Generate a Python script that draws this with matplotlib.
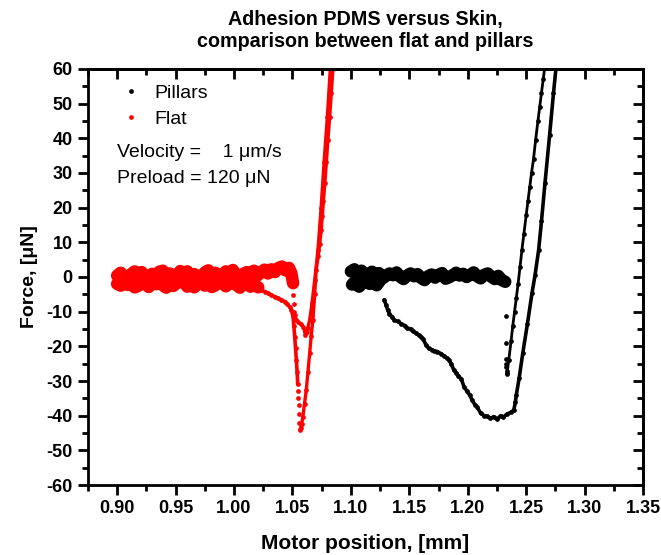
import matplotlib
matplotlib.use("Agg")
import matplotlib.pyplot as plt
from matplotlib.lines import Line2D
from matplotlib.ticker import MultipleLocator

plt.rcParams["font.family"] = ["Liberation Sans", "DejaVu Sans"]

# ---- Flat (red) ----
# approach: noisy baseline, then contact and loading line
flat_app_x = [0.900, 0.903, 0.906, 0.909, 0.912, 0.915, 0.918, 0.921, 0.924, 0.927,
              0.930, 0.933, 0.936, 0.939, 0.942, 0.945, 0.948, 0.951, 0.954, 0.957,
              0.960, 0.963, 0.966, 0.969, 0.972, 0.975, 0.978, 0.981, 0.984, 0.987,
              0.990, 0.993, 0.996, 0.999, 1.002, 1.005, 1.008, 1.011, 1.014, 1.017,
              1.020, 1.023, 1.026, 1.029, 1.032, 1.035, 1.038, 1.041, 1.044, 1.047,
              1.0490, 1.0505]
flat_app_y = [0.4, 1.2, 0.2, -0.4, 0.8, 1.6, 0.6, 1.4, 0.0, -0.6,
              0.9, 0.3, 1.5, 1.8, 0.4, 1.0, -0.3, 0.6, 1.7, 1.1,
              1.6, 0.2, 0.8, -0.5, 0.1, 1.3, 1.9, 0.7, 1.2, -0.2,
              0.5, 1.6, 1.0, 2.0, 0.3, -0.4, 0.9, 1.4, 0.6, 1.8,
              0.4, 1.3, 2.1, 1.0, 2.2, 1.4, 2.6, 3.0, 1.9, 2.6,
              1.1, -1.8]
flat_jump_x = [1.0508, 1.0512, 1.0516]
flat_jump_y = [-5.2, -7.8, -10.0]
flat_load_x = [1.0520, 1.0533, 1.0548, 1.0570, 1.0590, 1.0603, 1.0610, 1.0620, 1.0630,
               1.0647, 1.0667, 1.0690, 1.0718, 1.0745, 1.0770, 1.0798, 1.0825]
flat_load_y = [-11.0, -12.3, -12.9, -13.6, -14.3, -15.5, -16.7, -16.0, -14.8,
               -12.4, -7.6, -0.9, 7.8, 20.0, 33.0, 46.0, 60.8]
# retract: unloading line down to the adhesion minimum, then back to baseline
flat_unl_x = [1.0848, 1.0832, 1.0818, 1.0803, 1.0790, 1.0777, 1.0765, 1.0755, 1.0746,
              1.0733, 1.0720, 1.0703, 1.0690, 1.0675, 1.0660, 1.0647, 1.0632, 1.0618,
              1.0603, 1.0589, 1.0578, 1.0570, 1.0563]
flat_unl_y = [60.8, 53.0, 46.0, 39.5, 33.0, 27.0, 22.0, 17.5, 13.5,
              9.5, 6.0, 2.0, -5.0, -12.4, -17.0, -22.0, -27.5, -32.6,
              -36.5, -40.3, -42.5, -43.5, -44.0]
flat_snap_x = [1.0558, 1.0555, 1.0552, 1.0550, 1.0548]
flat_snap_y = [-42.0, -39.5, -37.0, -35.0, -33.0]
flat_tail_x = [1.0545, 1.0540, 1.0533, 1.0526, 1.0519, 1.0512, 1.0505, 1.0490, 1.0476,
               1.0455, 1.0434, 1.0405, 1.0377, 1.0350, 1.0320, 1.0290, 1.0263, 1.0235,
               1.0207]
flat_tail_y = [-31.0, -27.5, -24.0, -20.5, -17.2, -14.2, -11.4, -9.5, -8.6,
               -7.8, -7.1, -6.6, -6.2, -5.7, -5.2, -4.7, -4.2, -3.8,
               -3.3]
flat_ret_x = [1.0207, 1.017, 1.014, 1.011, 1.008, 1.005, 1.002, 0.999, 0.996, 0.993,
              0.990, 0.987, 0.984, 0.981, 0.978, 0.975, 0.972, 0.969, 0.966, 0.963,
              0.960, 0.957, 0.954, 0.951, 0.948, 0.945, 0.942, 0.939, 0.936, 0.933,
              0.930, 0.927, 0.924, 0.921, 0.918, 0.915, 0.912, 0.909, 0.906, 0.903,
              0.900]
flat_ret_y = [-3.0, -2.2, -2.8, -1.4, -2.0, -3.1, -2.3, -1.2, -1.9, -2.7,
              -1.6, -1.0, -2.4, -2.9, -1.7, -2.5, -1.2, -1.9, -3.0, -2.2,
              -2.8, -1.5, -1.0, -1.8, -2.6, -1.9, -3.1, -2.4, -1.3, -2.1,
              -1.5, -2.9, -2.0, -1.1, -2.6, -3.0, -1.7, -2.3, -1.4, -2.5,
              -2.0]

# ---- Pillars (black) ----
pil_app_x = [1.100, 1.103, 1.106, 1.109, 1.112, 1.115, 1.118, 1.121, 1.124, 1.127,
             1.130, 1.133, 1.136, 1.139, 1.142, 1.145, 1.148, 1.151, 1.154, 1.157,
             1.160, 1.163, 1.166, 1.169, 1.172, 1.175, 1.178, 1.181, 1.184, 1.187,
             1.190, 1.193, 1.196, 1.199, 1.202, 1.205, 1.208, 1.211, 1.214, 1.217,
             1.220, 1.223, 1.226, 1.229, 1.232]
pil_app_y = [1.6, 2.2, 0.9, 1.8, 0.0, 0.8, 1.5, 0.4, 1.1, -0.4,
             0.3, 1.0, 0.5, 1.3, 0.1, -0.6, 0.4, 1.0, 0.2, 0.8,
             -0.3, -0.9, 0.2, 0.7, -0.2, 0.6, 1.1, -0.5, -0.1, 0.5,
             1.2, 0.4, 0.9, 0.0, 0.6, 1.3, 0.2, -0.4, 0.6, 1.0,
             0.1, -0.6, 0.3, -0.9, -1.4]
pil_start_x = [1.101, 1.104, 1.107, 1.110, 1.113, 1.116, 1.119, 1.122, 1.125]
pil_start_y = [-2.2, -1.2, -2.8, -1.6, -0.8, -2.0, -1.4, -2.4, -1.0]
pil_snap_x = [1.2325, 1.2325, 1.2325, 1.2328, 1.2330, 1.2332, 1.2334]
pil_snap_y = [-11.4, -19.0, -23.6, -25.0, -26.0, -27.0, -28.0]
pil_load_x = [1.2336, 1.2350, 1.2370, 1.2385, 1.2400, 1.2415, 1.2430, 1.2447, 1.2463,
              1.2480, 1.2500, 1.2515, 1.2530, 1.2545, 1.2562, 1.2580, 1.2600, 1.2615,
              1.2630, 1.2645, 1.2660]
pil_load_y = [-27.8, -24.0, -18.5, -14.0, -10.0, -6.0, -2.0, 3.0, 7.8,
              12.5, 18.0, 22.0, 26.0, 30.0, 34.0, 39.5, 45.0, 49.0,
              53.0, 57.0, 60.8]
pil_ret_x = [1.2756, 1.2733, 1.2700, 1.2660, 1.2630, 1.2606, 1.2575, 1.2549, 1.2510,
             1.2470, 1.2440, 1.2415, 1.2407, 1.2393, 1.2370, 1.2336, 1.2300, 1.2280,
             1.2250, 1.2220, 1.2194, 1.2165, 1.2140, 1.2110, 1.2080, 1.2060, 1.2037,
             1.2015, 1.1990, 1.1967, 1.1945, 1.1920, 1.1900, 1.1880, 1.1860, 1.1840,
             1.1825, 1.1800, 1.1774, 1.1740, 1.1710, 1.1690, 1.1664, 1.1640, 1.1620,
             1.1600, 1.1580, 1.1560, 1.1530, 1.1510, 1.1484, 1.1460, 1.1430, 1.1400,
             1.1370, 1.1350, 1.1330, 1.1314, 1.1300, 1.1285]
pil_ret_y = [60.8, 53.0, 41.0, 27.0, 16.0, 7.8, 0.5, -4.7, -13.5,
             -22.0, -29.0, -34.0, -36.0, -38.4, -39.0, -39.5, -40.5, -40.0,
             -41.0, -40.3, -40.8, -40.2, -40.0, -39.3, -37.5, -36.8, -35.5,
             -34.0, -32.8, -31.6, -29.5, -28.5, -27.6, -26.8, -25.2, -24.0,
             -23.5, -22.8, -22.2, -21.5, -21.3, -21.0, -20.6, -19.5, -18.0,
             -17.2, -16.8, -16.2, -15.6, -15.0, -14.8, -14.0, -13.5, -12.8,
             -12.4, -11.5, -10.6, -9.5, -8.0, -6.6]

RED = "#ff0000"
BLACK = "#000000"

fig = plt.figure(figsize=(6.61, 5.55), dpi=100)
ax = fig.add_axes([0.133, 0.126, 0.840, 0.750])


def trace(x, y, c, lw=2.6, ms=3.4):
    ax.plot(x, y, "-", color=c, lw=lw, solid_capstyle="round", solid_joinstyle="round")
    if ms:
        ax.plot(x, y, "o", color=c, ms=ms, mec="none")


def dots(x, y, c, ms=3.4):
    ax.plot(x, y, "o", color=c, ms=ms, mec="none", ls="none")


# noisy baselines: the dots overlap into a fat band, drawn as thick strokes
trace(flat_app_x, flat_app_y, RED, lw=9, ms=0)
trace(flat_ret_x, flat_ret_y, RED, lw=9, ms=0)
trace(flat_tail_x, flat_tail_y, RED, lw=2.6)
dots(flat_jump_x, flat_jump_y, RED)
trace(flat_load_x, flat_load_y, RED, lw=2.4)
trace(flat_unl_x, flat_unl_y, RED, lw=2.4)
dots(flat_snap_x, flat_snap_y, RED)

trace(pil_app_x, pil_app_y, BLACK, lw=9, ms=0)
trace(pil_start_x, pil_start_y, BLACK, lw=9, ms=0)
dots(pil_snap_x, pil_snap_y, BLACK)
trace(pil_load_x, pil_load_y, BLACK, lw=2.0)
trace(pil_ret_x, pil_ret_y, BLACK, lw=2.6)

ax.set_xlim(0.875, 1.35)
ax.set_ylim(-60, 60)
ax.xaxis.set_major_locator(MultipleLocator(0.05))
ax.xaxis.set_minor_locator(MultipleLocator(0.025))
ax.yaxis.set_major_locator(MultipleLocator(10))
ax.yaxis.set_minor_locator(MultipleLocator(5))
ax.xaxis.set_major_formatter(plt.FuncFormatter(lambda v, p: f"{v:.2f}"))
ax.yaxis.set_major_formatter(plt.FuncFormatter(lambda v, p: f"{v:.0f}"))
ax.tick_params(which="major", direction="out", length=7, width=2, labelsize=13, pad=4)
ax.tick_params(which="minor", direction="out", length=4, width=2)
for lab in ax.get_xticklabels() + ax.get_yticklabels():
    lab.set_fontweight("bold")
for s in ax.spines.values():
    s.set_linewidth(2)

top = ax.secondary_xaxis("top")
top.xaxis.set_major_locator(MultipleLocator(0.05))
top.xaxis.set_minor_locator(MultipleLocator(0.025))
top.tick_params(which="major", direction="in", length=7, width=2, labeltop=False)
top.tick_params(which="minor", direction="in", length=4, width=2)
top.spines["top"].set_linewidth(2)
right = ax.secondary_yaxis("right")
right.yaxis.set_major_locator(MultipleLocator(10))
right.yaxis.set_minor_locator(MultipleLocator(5))
right.tick_params(which="major", direction="in", length=7, width=2, labelright=False)
right.tick_params(which="minor", direction="in", length=4, width=2)
right.spines["right"].set_linewidth(2)

ax.set_xlabel("Motor position, [mm]", fontsize=15, fontweight="bold", labelpad=12)
ax.set_ylabel("Force, [μN]", fontsize=14, fontweight="bold", labelpad=6)
ax.set_title("Adhesion PDMS versus Skin,\ncomparison between flat and pillars",
             fontsize=14.2, fontweight="bold", pad=16, linespacing=1.2)

handles = [Line2D([], [], marker="o", ls="none", color=BLACK, ms=3.4, mec="none"),
           Line2D([], [], marker="o", ls="none", color=RED, ms=3.4, mec="none")]
ax.legend(handles, ["Pillars", "Flat"], loc="upper left", frameon=False, fontsize=14,
          handlelength=1.0, handletextpad=0.7, borderaxespad=0.3, labelspacing=0.4,
          bbox_to_anchor=(0.035, 0.995))
ax.text(0.052, 0.80, "Velocity =    1 μm/s", transform=ax.transAxes, fontsize=14, va="center")
ax.text(0.052, 0.737, "Preload = 120 μN", transform=ax.transAxes, fontsize=14, va="center")

fig.savefig("out.png", dpi=100)
